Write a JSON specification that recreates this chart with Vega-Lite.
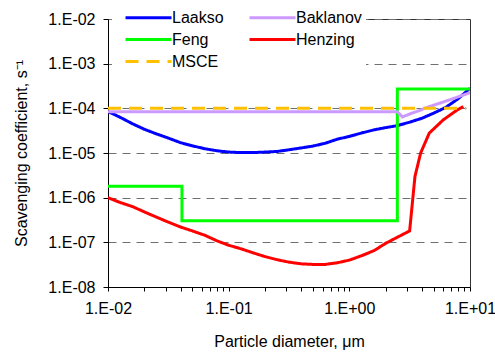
{
  "$schema": "https://vega.github.io/schema/vega-lite/v6.json",
  "width": 362,
  "height": 268,
  "autosize": {"type": "none"},
  "padding": {"left": 108, "top": 19, "right": 25, "bottom": 67},
  "background": "white",
  "config": {
    "view": {"stroke": "#333333", "strokeWidth": 1},
    "font": "Liberation Sans"
  },
  "data": {
    "values": [
      {"s": "Laakso", "o": 1, "d": 0.01, "k": 8.5e-5},
      {"s": "Laakso", "o": 2, "d": 0.0126, "k": 6.3e-5},
      {"s": "Laakso", "o": 3, "d": 0.016, "k": 4.5e-5},
      {"s": "Laakso", "o": 4, "d": 0.02, "k": 3.4e-5},
      {"s": "Laakso", "o": 5, "d": 0.025, "k": 2.7e-5},
      {"s": "Laakso", "o": 6, "d": 0.031, "k": 2.2e-5},
      {"s": "Laakso", "o": 7, "d": 0.04, "k": 1.7e-5},
      {"s": "Laakso", "o": 8, "d": 0.05, "k": 1.45e-5},
      {"s": "Laakso", "o": 9, "d": 0.063, "k": 1.25e-5},
      {"s": "Laakso", "o": 10, "d": 0.08, "k": 1.12e-5},
      {"s": "Laakso", "o": 11, "d": 0.1, "k": 1.05e-5},
      {"s": "Laakso", "o": 12, "d": 0.126, "k": 1.02e-5},
      {"s": "Laakso", "o": 13, "d": 0.16, "k": 1.02e-5},
      {"s": "Laakso", "o": 14, "d": 0.2, "k": 1.05e-5},
      {"s": "Laakso", "o": 15, "d": 0.25, "k": 1.08e-5},
      {"s": "Laakso", "o": 16, "d": 0.316, "k": 1.18e-5},
      {"s": "Laakso", "o": 17, "d": 0.4, "k": 1.3e-5},
      {"s": "Laakso", "o": 18, "d": 0.5, "k": 1.43e-5},
      {"s": "Laakso", "o": 19, "d": 0.63, "k": 1.65e-5},
      {"s": "Laakso", "o": 20, "d": 0.8, "k": 2.05e-5},
      {"s": "Laakso", "o": 21, "d": 1.0, "k": 2.35e-5},
      {"s": "Laakso", "o": 22, "d": 1.26, "k": 2.8e-5},
      {"s": "Laakso", "o": 23, "d": 1.6, "k": 3.3e-5},
      {"s": "Laakso", "o": 24, "d": 2.0, "k": 3.7e-5},
      {"s": "Laakso", "o": 25, "d": 2.5, "k": 4.1e-5},
      {"s": "Laakso", "o": 26, "d": 3.16, "k": 4.9e-5},
      {"s": "Laakso", "o": 27, "d": 4.0, "k": 6.0e-5},
      {"s": "Laakso", "o": 28, "d": 5.0, "k": 7.8e-5},
      {"s": "Laakso", "o": 29, "d": 6.3, "k": 1.05e-4},
      {"s": "Laakso", "o": 30, "d": 8.0, "k": 1.65e-4},
      {"s": "Laakso", "o": 31, "d": 10, "k": 2.8e-4},
      {"s": "Feng", "o": 1, "d": 0.01, "k": 1.8e-6},
      {"s": "Feng", "o": 2, "d": 0.041, "k": 1.8e-6},
      {"s": "Feng", "o": 3, "d": 0.041, "k": 3.05e-7},
      {"s": "Feng", "o": 4, "d": 2.5, "k": 3.05e-7},
      {"s": "Feng", "o": 5, "d": 2.5, "k": 2.7e-4},
      {"s": "Feng", "o": 6, "d": 10, "k": 2.7e-4},
      {"s": "Henzing", "o": 1, "d": 0.01, "k": 1.0e-6},
      {"s": "Henzing", "o": 2, "d": 0.0126, "k": 7.8e-7},
      {"s": "Henzing", "o": 3, "d": 0.016, "k": 6.3e-7},
      {"s": "Henzing", "o": 4, "d": 0.02, "k": 4.8e-7},
      {"s": "Henzing", "o": 5, "d": 0.025, "k": 3.7e-7},
      {"s": "Henzing", "o": 6, "d": 0.031, "k": 2.9e-7},
      {"s": "Henzing", "o": 7, "d": 0.04, "k": 2.2e-7},
      {"s": "Henzing", "o": 8, "d": 0.05, "k": 1.8e-7},
      {"s": "Henzing", "o": 9, "d": 0.063, "k": 1.45e-7},
      {"s": "Henzing", "o": 10, "d": 0.08, "k": 1.08e-7},
      {"s": "Henzing", "o": 11, "d": 0.1, "k": 8.6e-8},
      {"s": "Henzing", "o": 12, "d": 0.126, "k": 7.2e-8},
      {"s": "Henzing", "o": 13, "d": 0.16, "k": 5.8e-8},
      {"s": "Henzing", "o": 14, "d": 0.2, "k": 4.8e-8},
      {"s": "Henzing", "o": 15, "d": 0.25, "k": 4.1e-8},
      {"s": "Henzing", "o": 16, "d": 0.316, "k": 3.6e-8},
      {"s": "Henzing", "o": 17, "d": 0.4, "k": 3.3e-8},
      {"s": "Henzing", "o": 18, "d": 0.5, "k": 3.2e-8},
      {"s": "Henzing", "o": 19, "d": 0.63, "k": 3.2e-8},
      {"s": "Henzing", "o": 20, "d": 0.8, "k": 3.5e-8},
      {"s": "Henzing", "o": 21, "d": 1.0, "k": 4.0e-8},
      {"s": "Henzing", "o": 22, "d": 1.26, "k": 5.0e-8},
      {"s": "Henzing", "o": 23, "d": 1.6, "k": 6.5e-8},
      {"s": "Henzing", "o": 24, "d": 2.0, "k": 9.5e-8},
      {"s": "Henzing", "o": 25, "d": 2.5, "k": 1.3e-7},
      {"s": "Henzing", "o": 26, "d": 3.16, "k": 1.8e-7},
      {"s": "Henzing", "o": 27, "d": 3.5, "k": 3.0e-6},
      {"s": "Henzing", "o": 28, "d": 3.9, "k": 1.0e-5},
      {"s": "Henzing", "o": 29, "d": 4.6, "k": 2.8e-5},
      {"s": "Henzing", "o": 30, "d": 6.0, "k": 5.5e-5},
      {"s": "Henzing", "o": 31, "d": 7.5, "k": 8.5e-5},
      {"s": "Henzing", "o": 32, "d": 8.8, "k": 1.1e-4},
      {"s": "Baklanov", "o": 1, "d": 0.01, "k": 8.4e-5},
      {"s": "Baklanov", "o": 2, "d": 2.5, "k": 8.4e-5},
      {"s": "Baklanov", "o": 3, "d": 2.75, "k": 6.4e-5},
      {"s": "Baklanov", "o": 4, "d": 3.3, "k": 7.8e-5},
      {"s": "Baklanov", "o": 5, "d": 3.85, "k": 9.0e-5},
      {"s": "Baklanov", "o": 6, "d": 4.4, "k": 1.05e-4},
      {"s": "Baklanov", "o": 7, "d": 5.6, "k": 1.3e-4},
      {"s": "Baklanov", "o": 8, "d": 7.5, "k": 1.7e-4},
      {"s": "Baklanov", "o": 9, "d": 10, "k": 2.25e-4},
      {"s": "MSCE", "o": 1, "d": 0.01, "k": 1.0e-4},
      {"s": "MSCE", "o": 2, "d": 9.3, "k": 1.0e-4}
    ]
  },
  "mark": {"type": "line", "strokeWidth": 3, "clip": true},
  "encoding": {
    "x": {
      "field": "d",
      "type": "quantitative",
      "scale": {"type": "log", "domain": [0.01, 10], "nice": false},
      "axis": {
        "title": "Particle diameter, μm",
        "titleFontSize": 16,
        "titleFontWeight": "normal",
        "titleColor": "black",
        "titleFont": "Liberation Sans",
        "titlePadding": 17,
        "values": [0.01, 0.02, 0.03, 0.04, 0.05, 0.06, 0.07, 0.08, 0.09, 0.1, 0.2, 0.3, 0.4, 0.5, 0.6, 0.7, 0.8, 0.9, 1, 2, 3, 4, 5, 6, 7, 8, 9, 10],
        "labelExpr": "abs(log(datum.value)/LN10 - round(log(datum.value)/LN10)) < 0.001 ? '1.E' + (round(log(datum.value)/LN10) < 0 ? '-0' + (-round(log(datum.value)/LN10)) : '+0' + round(log(datum.value)/LN10)) : ''",
        "labelFontSize": 16,
        "labelColor": "black",
        "labelFont": "Liberation Sans",
        "labelPadding": 9,
        "labelOverlap": false,
        "labelBound": false,
        "labelFlush": false,
        "tickSize": 4,
        "tickColor": "black",
        "domainColor": "black",
        "grid": false
      }
    },
    "y": {
      "field": "k",
      "type": "quantitative",
      "scale": {"type": "log", "domain": [1e-8, 0.01], "nice": false},
      "axis": {
        "title": "Scavenging coefficient, s⁻¹",
        "titleFontSize": 16,
        "titleFontWeight": "normal",
        "titleColor": "black",
        "titleFont": "Liberation Sans",
        "titlePadding": 18,
        "values": [1e-8, 1e-7, 1e-6, 1e-5, 1e-4, 1e-3, 1e-2],
        "labelExpr": "'1.E-0' + abs(round(log(datum.value)/LN10))",
        "labelFontSize": 16,
        "labelColor": "black",
        "labelFont": "Liberation Sans",
        "labelPadding": 8,
        "labelOverlap": false,
        "labelBound": false,
        "labelFlush": false,
        "tickSize": 5,
        "tickColor": "black",
        "domainColor": "black",
        "grid": true,
        "gridColor": "#707070",
        "gridDash": [8, 6],
        "gridWidth": 1,
        "gridOpacity": 1
      }
    },
    "color": {
      "field": "s",
      "type": "nominal",
      "scale": {
        "domain": ["Laakso", "Feng", "MSCE", "Baklanov", "Henzing"],
        "range": ["#0000FF", "#00FF00", "#FFC000", "#CC99FF", "#FF0000"]
      },
      "legend": {
        "title": null,
        "orient": "none",
        "legendX": 4,
        "legendY": -15,
        "columns": 2,
        "columnPadding": 16,
        "rowPadding": 4,
        "fillColor": "white",
        "padding": 4,
        "symbolType": "M-3,0H3",
        "symbolSize": 235,
        "symbolOffset": 23,
        "symbolStrokeWidth": 3,
        "labelFontSize": 16,
        "labelFont": "Liberation Sans",
        "labelColor": "black",
        "labelOffset": 14,
        "zindex": 2
      }
    },
    "strokeDash": {
      "field": "s",
      "type": "nominal",
      "scale": {
        "domain": ["Laakso", "Feng", "MSCE", "Baklanov", "Henzing"],
        "range": [[1, 0], [1, 0], [13, 8], [1, 0], [1, 0]]
      },
      "legend": null
    },
    "order": {"field": "o", "type": "quantitative"}
  }
}
